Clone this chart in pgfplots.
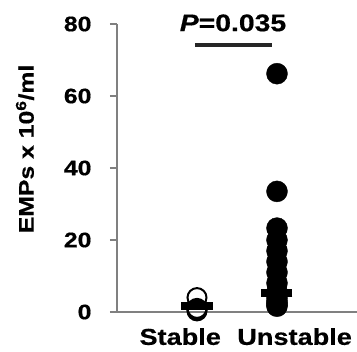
\documentclass[border=0pt]{standalone}
\usepackage{fontspec}
\setmainfont{Liberation Sans}[FakeStretch=1.18, BoldFeatures={FakeBold=0.6}, BoldItalicFeatures={FakeBold=0.6}]
\usepackage{pgfplots}
\pgfplotsset{compat=1.18}
\definecolor{axgray}{HTML}{808080}
\begin{document}
\begin{tikzpicture}
\begin{axis}[
  at={(0,0)}, anchor=south west,
  scale only axis, width=240pt, height=288pt,
  xmin=0, xmax=3, ymin=0, ymax=80,
  axis x line=bottom, axis y line=left,
  axis line style={axgray, line width=1.3pt, -},
  ytick={0,20,40,60,80},
  tick align=outside, major tick length=7pt,
  ytick style={axgray, line width=1.3pt},
  xtick={0.79,2.22}, xticklabels={Stable,Unstable},
  xtick style={draw=none},
  xticklabel style={font=\fontsize{23}{26}\selectfont\bfseries, anchor=north, yshift=-8pt, inner sep=1pt},
  yticklabel style={font=\fontsize{21}{24}\selectfont\bfseries, anchor=east, xshift=-15pt},
  /pgf/number format/assume math mode=true,
  clip=false,
]
% Stable (open circles)
\addplot[only marks, mark=o, mark size=9.5pt, mark options={line width=2pt, fill=white, draw=black}]
  coordinates {(1,4) (1,1) (1,0.6) (1,0.3)};
% Unstable (filled circles)
\addplot[only marks, mark=*, mark size=10.5pt, mark options={fill=black, draw=black}]
  coordinates {(2,66.2) (2,33.5) (2,23.3) (2,20) (2,17) (2,14) (2,11) (2,8)
  (2,5.5) (2,4) (2,3) (2,2.5) (2,2) (2,1.6)};
% means
\addplot[only marks, mark=-, mark size=16pt, mark options={line width=8.5pt, draw=black}]
  coordinates {(1,1.7)};
\addplot[only marks, mark=-, mark size=15.5pt, mark options={line width=7.5pt, draw=black}]
  coordinates {(2,5.3)};
% significance bar
\addplot[no marks, line width=4pt, color=black!85] coordinates {(0.975,74.2) (1.94,74.2)};
\node[font=\fontsize{24}{27}\selectfont\bfseries] at (axis cs:1.45,80.3) {\textit{P}=0.035};
\end{axis}
\node[rotate=90, font=\fontsize{21}{24}\selectfont\bfseries] at (-92pt,163pt) {EMPs x 10\textsuperscript{6}/ml};
\pgfresetboundingbox
\path[use as bounding box] (-117pt,-40pt) rectangle (240pt,312pt);
\end{tikzpicture}
\end{document}
